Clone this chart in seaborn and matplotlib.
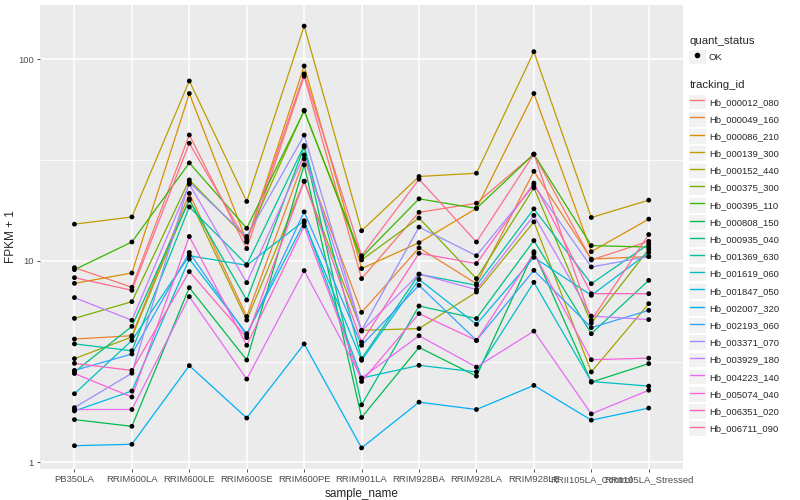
import matplotlib
matplotlib.use("Agg")
import matplotlib.pyplot as plt
from matplotlib.lines import Line2D
from matplotlib.patches import Rectangle
from matplotlib.legend_handler import HandlerLine2D
from matplotlib.ticker import LogLocator, FixedLocator, NullFormatter
import numpy as np
import pandas as pd
import seaborn as sns

samples = ["PB350LA", "RRIM600LA", "RRIM600LE", "RRIM600SE", "RRIM600PE",
           "RRIM901LA", "RRIM928BA", "RRIM928LA", "RRIM928LE",
           "RRII105LA_Control", "RRII105LA_Stressed"]

tracking_ids = ["Hb_000012_080", "Hb_000049_160", "Hb_000086_210", "Hb_000139_300",
                "Hb_000152_440", "Hb_000375_300", "Hb_000395_110", "Hb_000808_150",
                "Hb_000935_040", "Hb_001369_630", "Hb_001619_060", "Hb_001847_050",
                "Hb_002007_320", "Hb_002193_060", "Hb_003371_070", "Hb_003929_180",
                "Hb_004223_140", "Hb_005074_040", "Hb_006351_020", "Hb_006711_090"]

# FPKM + 1 per sample
hb_000012_080 = [9.25, 7.39, 42.1, 11.5, 82.3, 8.16, 17.4, 19.3, 33.8, 10.1, 12.5]
hb_000049_160 = [4.09, 4.25, 21.6, 5.29, 32.0, 5.55, 11.6, 7.70, 27.8, 10.2, 10.5]
hb_000086_210 = [7.73, 8.70, 67.6, 12.5, 92.6, 9.15, 12.3, 18.2, 67.6, 11.1, 16.1]
hb_000139_300 = [15.2, 16.5, 78.0, 19.7, 146, 14.1, 26.2, 27.2, 109, 16.4, 20.0]
hb_000152_440 = [3.27, 4.19, 20.3, 5.08, 24.8, 4.52, 4.61, 7.00, 15.6, 2.81, 6.13]
hb_000375_300 = [5.18, 6.27, 25.2, 12.9, 55.8, 10.1, 16.3, 8.16, 23.0, 4.91, 11.4]
hb_000395_110 = [9.04, 12.4, 30.6, 14.5, 55.4, 10.4, 20.3, 18.2, 33.8, 11.9, 11.7]
hb_000808_150 = [1.63, 1.51, 7.36, 3.22, 29.9, 1.67, 3.72, 2.68, 11.1, 2.50, 3.09]
hb_000935_040 = [2.81, 4.73, 20.0, 6.39, 36.7, 1.93, 5.97, 5.17, 12.6, 4.35, 8.00]
hb_001369_630 = [3.87, 3.58, 18.5, 9.57, 37.3, 3.27, 8.57, 7.56, 18.1, 7.70, 12.1]
hb_001619_060 = [2.19, 4.03, 10.6, 9.50, 15.8, 2.62, 3.03, 2.81, 7.82, 2.52, 2.39]
hb_001847_050 = [1.80, 2.26, 10.2, 4.35, 15.5, 3.21, 8.09, 4.84, 10.4, 6.74, 11.0]
hb_002007_320 = [1.21, 1.23, 3.02, 1.66, 3.87, 1.18, 1.99, 1.83, 2.41, 1.62, 1.86]
hb_002193_060 = [2.86, 3.45, 11.0, 4.27, 17.5, 3.81, 7.56, 4.03, 8.97, 4.66, 5.68]
hb_003371_070 = [1.87, 2.77, 24.5, 13.2, 42.0, 4.52, 14.7, 10.6, 23.7, 9.32, 10.5]
hb_003929_180 = [6.57, 5.07, 24.0, 7.79, 33.5, 4.48, 8.60, 7.20, 16.8, 5.32, 5.11]
hb_004223_140 = [1.83, 1.83, 6.64, 2.59, 8.94, 2.62, 4.25, 2.97, 4.48, 1.74, 2.28]
hb_005074_040 = [2.76, 2.11, 13.2, 3.81, 14.9, 2.52, 5.47, 4.03, 10.9, 3.23, 3.29]
hb_006351_020 = [3.10, 2.86, 8.84, 4.16, 24.8, 3.95, 10.9, 9.69, 24.3, 6.87, 6.87]
hb_006711_090 = [8.25, 7.14, 38.3, 12.4, 84.6, 10.6, 25.4, 12.4, 33.8, 5.07, 13.5]

series = [hb_000012_080, hb_000049_160, hb_000086_210, hb_000139_300, hb_000152_440,
          hb_000375_300, hb_000395_110, hb_000808_150, hb_000935_040, hb_001369_630,
          hb_001619_060, hb_001847_050, hb_002007_320, hb_002193_060, hb_003371_070,
          hb_003929_180, hb_004223_140, hb_005074_040, hb_006351_020, hb_006711_090]

# ggplot2 default hue palette for 20 levels
hue_colors = ["#F8766D", "#EA8331", "#D89000", "#C09B00", "#A3A500", "#7CAE00",
              "#39B600", "#00BB4E", "#00BF7D", "#00C1A3", "#00BFC4", "#00BAE0",
              "#00B0F6", "#35A2FF", "#9590FF", "#C77CFF", "#E76BF3", "#FA62DB",
              "#FF62BC", "#FF6C91"]


class KeyHandler(HandlerLine2D):
    # legend key with the grey ggplot background square
    def create_artists(self, legend, orig_handle, xdescent, ydescent, width, height,
                       fontsize, trans):
        arts = super().create_artists(legend, orig_handle, xdescent, ydescent,
                                      width, height, fontsize, trans)
        bg = Rectangle((-xdescent - 1, -ydescent - 1.5), width + 2, height + 3,
                       facecolor="#F2F2F2", edgecolor="white", linewidth=0.8,
                       transform=trans)
        return [bg] + arts


def main():
    rows = []
    for tid, vals in zip(tracking_ids, series):
        for s, v in zip(samples, vals):
            rows.append({"tracking_id": tid, "sample_name": s, "fpkm": v, "quant_status": "OK"})
    df = pd.DataFrame(rows)

    sns.set_theme(style="darkgrid", rc={
        "axes.facecolor": "#EBEBEB",
        "grid.color": "white",
        "axes.edgecolor": "#EBEBEB",
    })
    plt.rcParams["font.family"] = ["Liberation Sans", "DejaVu Sans"]

    fig = plt.figure(figsize=(8, 5), dpi=100)
    ax = fig.add_axes([0.05, 0.062, 0.804, 0.928])

    sns.lineplot(data=df, x="sample_name", y="fpkm", hue="tracking_id",
                 hue_order=tracking_ids, palette=hue_colors, sort=False,
                 linewidth=0.9, legend=False, ax=ax)
    sns.scatterplot(data=df, x="sample_name", y="fpkm", color="black", s=12,
                    edgecolor="none", legend=False, ax=ax, zorder=5)

    ax.set_yscale("log")
    lo, hi = np.log10(df["fpkm"].min()), np.log10(df["fpkm"].max())
    pad = (hi - lo) * 0.05
    ax.set_ylim(10 ** (lo - pad), 10 ** (hi + pad))
    ax.set_xlim(-0.6, len(samples) - 0.4)

    ax.yaxis.set_major_locator(FixedLocator([1, 10, 100]))
    ax.yaxis.set_minor_locator(LogLocator(base=10, subs=(10 ** 0.5,)))
    ax.yaxis.set_minor_formatter(NullFormatter())
    ax.set_yticklabels(["1", "10", "100"])

    ax.grid(which="major", color="white", linewidth=1.1)
    ax.grid(which="minor", axis="y", color="white", linewidth=0.55)
    ax.tick_params(axis="both", which="major", length=2.5, width=0.6, color="#333333",
                   labelsize=6.8, labelcolor="#4D4D4D", pad=2, bottom=True, left=True)
    ax.tick_params(axis="y", which="minor", length=0)
    for sp in ax.spines.values():
        sp.set_visible(False)

    ax.set_xlabel("sample_name", fontsize=8.5, labelpad=3)
    ax.set_ylabel("FPKM + 1", fontsize=8.5, labelpad=1)

    # legends
    status_handle = [Line2D([], [], linestyle="none", marker="o", markersize=3,
                            color="black")]
    leg1 = ax.legend(status_handle, ["OK"], title="quant_status",
                     loc="upper left", bbox_to_anchor=(1.007, 0.937),
                     frameon=False, fontsize=6.8, title_fontsize=8.2,
                     handlelength=1.55, handleheight=1.5, handletextpad=0.5,
                     borderaxespad=0, borderpad=0.2,
                     handler_map={Line2D: KeyHandler()})
    leg1._legend_box.align = "left"
    ax.add_artist(leg1)

    line_handles = [Line2D([], [], color=c, linewidth=1.0) for c in hue_colors]
    leg2 = ax.legend(line_handles, tracking_ids, title="tracking_id",
                     loc="upper left", bbox_to_anchor=(1.007, 0.842),
                     frameon=False, fontsize=6.8, title_fontsize=8.2,
                     handlelength=1.55, handleheight=1.5, handletextpad=0.5,
                     labelspacing=0.6, borderaxespad=0, borderpad=0.2,
                     handler_map={Line2D: KeyHandler()})
    leg2._legend_box.align = "left"

    fig.savefig("out.png", dpi=100)
    plt.close(fig)


if __name__ == "__main__":
    main()
